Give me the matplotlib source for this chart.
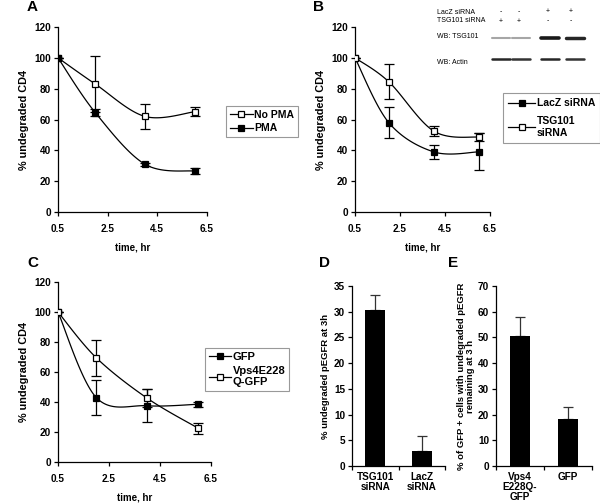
import numpy as np
import matplotlib
matplotlib.use('Agg')
import matplotlib.pyplot as plt
from matplotlib.lines import Line2D

plt.rcParams['font.family'] = ['Liberation Sans', 'DejaVu Sans']
plt.rcParams['font.weight'] = 'bold'
plt.rcParams['axes.labelweight'] = 'bold'

W, H = 600, 503

time_hr = [0.5, 2, 4, 6]
time_ticks = [0.5, 2.5, 4.5, 6.5]

# panel A
no_pma = [100, 83, 62, 65]
no_pma_err = [0, 18, 8, 3]
pma = [100, 64.5, 31, 26.5]
pma_err = [0, 2, 1, 2]

# panel B
lacz = [100, 58, 39, 39]
lacz_err = [0, 10, 4.5, 12]
tsg101 = [100, 84.5, 52.5, 48.5]
tsg101_err = [0, 11.5, 3, 2.5]

# panel C
gfp = [100, 43, 37.5, 38.5]
gfp_err = [0, 11.5, 11, 1.5]
vps4 = [100, 69.5, 42.5, 22.5]
vps4_err = [0, 12, 6, 3.5]

# panel D
d_labels = ['TSG101\nsiRNA', 'LacZ\nsiRNA']
d_vals = [30.3, 2.9]
d_err = [2.9, 2.9]

# panel E
e_labels = ['Vps4\nE228Q-\nGFP', 'GFP']
e_vals = [50.5, 18.3]
e_err = [7.5, 4.7]

# blot inset
lane_x = [501, 521, 550, 575]
lacz_sign = ['-', '-', '+', '+']
tsg_sign = ['+', '+', '-', '-']
tsg_band = [0.35, 0.35, 0.9, 0.85]
actin_band = [0.85, 0.8, 0.85, 0.8]

fig = plt.figure(figsize=(W / 100, H / 100), dpi=100)


def add_ax(l, r, t, b):
    return fig.add_axes([l / W, 1 - b / H, (r - l) / W, (b - t) / H])


def style(ax):
    for s in ['top', 'right']:
        ax.spines[s].set_visible(False)
    for s in ['left', 'bottom']:
        ax.spines[s].set_linewidth(0.9)
    ax.tick_params(direction='out', length=3, width=0.9, labelsize=7.2, pad=2)
    for lab in ax.get_xticklabels() + ax.get_yticklabels():
        lab.set_fontweight('bold')


def smooth(ax, x, y):
    # excel-like bezier smoothing done in screen space
    bb = ax.get_position()
    sx = bb.width * W / 6.0
    sy = bb.height * H / 120.0
    pts = np.column_stack([(np.array(x) - 0.5) * sx, np.array(y) * sy])
    t = np.linspace(0, 1, 40)[:, None]
    segs = []
    n = len(pts)
    for i in range(n - 1):
        p0 = pts[max(i - 1, 0)]
        p1 = pts[i]
        p2 = pts[i + 1]
        p3 = pts[min(i + 2, n - 1)]
        c1 = p1 + (p2 - p0) / 6
        c2 = p2 - (p3 - p1) / 6
        seg = (1 - t) ** 3 * p1 + 3 * (1 - t) ** 2 * t * c1 + 3 * (1 - t) * t ** 2 * c2 + t ** 3 * p2
        segs.append(seg)
    c = np.vstack(segs)
    return c[:, 0] / sx + 0.5, c[:, 1] / sy


def line_panel(ax, series):
    for vals, err, filled in series:
        xs, ys = smooth(ax, time_hr, vals)
        ax.plot(xs, ys, color='k', lw=0.9, zorder=2)
        ax.errorbar(time_hr, vals, yerr=err, fmt='none', ecolor='k', elinewidth=0.9,
                    capsize=3.5, capthick=0.9, zorder=3)
        ax.plot(time_hr, vals, ls='none', marker='s', ms=5, mec='k', mew=0.9,
                mfc='k' if filled else 'white', zorder=4)
    ax.set_xlim(0.5, 6.5)
    ax.set_ylim(0, 120)
    ax.set_xticks(time_ticks)
    ax.set_xticklabels(['0.5', '2.5', '4.5', '6.5'], fontsize=8)
    ax.set_yticks(range(0, 121, 20))
    ax.set_ylabel('% undegraded CD4', fontsize=7.8, labelpad=4)
    ax.set_xlabel('time, hr', fontsize=7, labelpad=6)
    style(ax)
    ax.tick_params(axis='x', pad=6)


def legend(ax, entries, box, fs, hl, ls=0.35, bp=0.35):
    handles = [Line2D([], [], color='k', lw=0.9, marker='s', ms=5, mec='k', mew=0.9,
                      mfc='k' if f else 'white') for f in entries[1]]
    l, t = box
    leg = ax.legend(handles, entries[0], loc='upper left', bbox_to_anchor=(l / W, 1 - t / H),
                    bbox_transform=fig.transFigure, borderaxespad=0, fontsize=fs,
                    handlelength=hl, handletextpad=0.15, fancybox=False, framealpha=1,
                    borderpad=bp, labelspacing=ls)
    leg.get_frame().set_edgecolor('#999999')
    leg.get_frame().set_linewidth(0.8)
    for txt in leg.get_texts():
        txt.set_fontweight('bold')


# A
axA = add_ax(58, 207, 27, 212)
line_panel(axA, [(no_pma, no_pma_err, False), (pma, pma_err, True)])
legend(axA, (['No PMA', 'PMA'], [False, True]), (226, 106), 7.5, 2.2)

# B
axB = add_ax(355, 490, 27, 212)
line_panel(axB, [(lacz, lacz_err, True), (tsg101, tsg101_err, False)])
legend(axB, (['LacZ siRNA', 'TSG101\nsiRNA'], [True, False]), (503, 93), 7.5, 2.6,
       ls=0.75, bp=0.5)

# C
axC = add_ax(58, 211, 282, 462)
line_panel(axC, [(gfp, gfp_err, True), (vps4, vps4_err, False)])
legend(axC, (['GFP', 'Vps4E228\nQ-GFP'], [True, False]), (205, 348), 8, 2.0)


def bar_panel(ax, labels, vals, err, ymax, step, ylabel, lpad):
    pos = [0.5, 1.5]
    ax.bar(pos, vals, width=0.42, color='k', zorder=2)
    ax.errorbar(pos, vals, yerr=[[0, 0], err], fmt='none', ecolor='#333333',
                elinewidth=0.9, capsize=3.5, capthick=0.9, zorder=1)
    ax.set_xlim(0, 2)
    ax.set_ylim(0, ymax)
    ax.set_yticks(range(0, ymax + 1, step))
    ax.set_xticks([0, 1, 2])
    ax.set_xticklabels([])
    ax.set_xticks(pos, minor=True)
    ax.set_xticklabels(labels, minor=True, fontsize=7.2, fontweight='bold', linespacing=1.0)
    ax.tick_params(axis='x', which='minor', length=0, pad=4)
    ax.set_ylabel(ylabel, fontsize=6.8, labelpad=lpad, linespacing=1.0)
    style(ax)


axD = add_ax(352, 445, 286, 466)
bar_panel(axD, d_labels, d_vals, d_err, 35, 5, '% undegraded pEGFR at 3h', 3)

axE = add_ax(496, 592, 286, 466)
bar_panel(axE, e_labels, e_vals, e_err, 70, 10,
          '% of GFP + cells with undegraded pEGFR\nremaining at 3 h', 2)

# panel letters
for lab, x, y in [('A', 32, 7), ('B', 319, 7), ('C', 33, 263), ('D', 325, 263), ('E', 453, 263)]:
    fig.text(x / W, 1 - y / H, lab, fontsize=11, fontweight='bold', ha='center', va='center')

# western blot inset
fig.text(437 / W, 1 - 12 / H, 'LacZ siRNA', fontsize=5, fontweight='normal', va='center')
fig.text(437 / W, 1 - 20 / H, 'TSG101 siRNA', fontsize=5, fontweight='normal', va='center')
fig.text(437 / W, 1 - 37 / H, 'WB: TSG101', fontsize=5, fontweight='normal', va='center')
fig.text(437 / W, 1 - 62 / H, 'WB: Actin', fontsize=5, fontweight='normal', va='center')
for x, s1, s2 in zip([501, 519, 548, 571], lacz_sign, tsg_sign):
    fig.text(x / W, 1 - 12 / H, s1, fontsize=5, fontweight='normal', ha='center', va='center')
    fig.text(x / W, 1 - 21 / H, s2, fontsize=5, fontweight='normal', ha='center', va='center')

axBlot = add_ax(485, 592, 30, 66)
axBlot.set_xlim(485, 592)
axBlot.set_ylim(66, 30)
axBlot.axis('off')
for x, a in zip(lane_x, tsg_band):
    axBlot.plot([x - 9, x + 9], [38, 38], color='k', alpha=a, lw=0.8 + 2 * a,
                solid_capstyle='round')
for x, a in zip(lane_x, actin_band):
    axBlot.plot([x - 9, x + 9], [58.5, 58.5], color='k', alpha=a, lw=1.8,
                solid_capstyle='round')

fig.savefig('out.png', dpi=100)
